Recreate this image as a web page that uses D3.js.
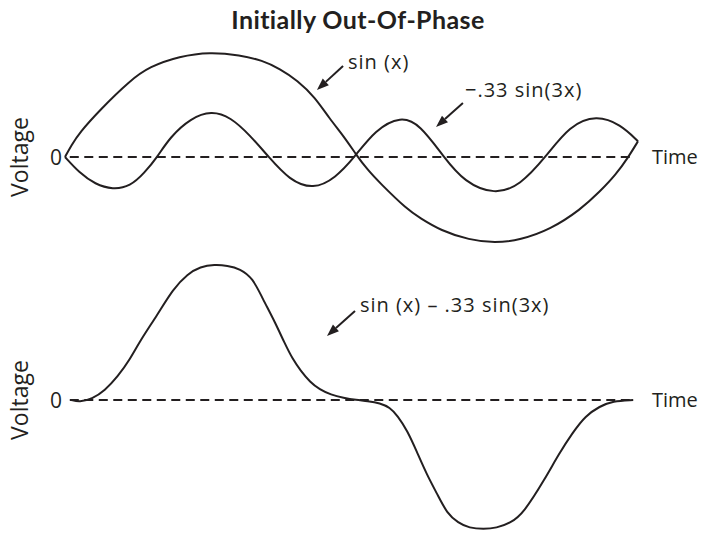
<!DOCTYPE html>
<html>
<head>
<meta charset="utf-8">
<script src="https://cdn.jsdelivr.net/npm/d3@7"></script>
<style>
  body { margin: 0; background: #fff; }
  text { font-family: "Open Sans", Lato, sans-serif; fill: #231f20; }
</style>
</head>
<body>
<div class="chart"></div>
<script>
// time is in degrees of phase, voltage in units of the sin(x) peak
const sinT = [0, 4, 9, 22, 41, 53, 72, 91, 110, 124, 135, 146, 157, 166, 176, 183, 190, 198, 215, 223, 236, 254, 270, 286, 305, 324, 336, 346, 354, 360];
const sinV = [0, 0.11, 0.23, 0.45, 0.73, 0.86, 0.96, 1.0, 0.97, 0.92, 0.84, 0.73, 0.57, 0.37, 0.18, 0.02, -0.12, -0.25, -0.50, -0.58, -0.70, -0.79, -0.82, -0.79, -0.69, -0.50, -0.33, -0.17, 0, 0.15];

const waveT = [0, 9, 19, 30, 41, 50, 58, 66, 79, 92, 104, 116, 128, 141, 156, 170, 182, 195, 211, 223, 238, 251, 270, 286, 302, 317, 334, 349, 360];
const waveV = [0, -0.15, -0.26, -0.31, -0.28, -0.15, 0, 0.19, 0.37, 0.44, 0.38, 0.21, 0, -0.22, -0.31, -0.20, 0, 0.26, 0.39, 0.31, 0, -0.24, -0.36, -0.27, 0, 0.30, 0.40, 0.31, 0.15];

const sumT = [4, 9, 17, 25, 33, 41, 47, 58, 68, 77, 85, 94, 102, 110, 118, 124, 132, 138, 143, 148, 154, 160, 167, 175, 183, 190, 198, 204, 209, 215, 221, 227, 234, 240, 247, 254, 263, 271, 280, 288, 302, 310, 319, 327, 336, 344, 357];
const sumV = [0, -0.02, 0.01, 0.09, 0.22, 0.39, 0.56, 0.81, 1.06, 1.20, 1.27, 1.29, 1.28, 1.25, 1.16, 0.97, 0.74, 0.54, 0.39, 0.28, 0.17, 0.10, 0.05, 0.02, 0, -0.01, -0.03, -0.07, -0.15, -0.29, -0.49, -0.70, -0.90, -1.08, -1.17, -1.22, -1.23, -1.22, -1.17, -1.08, -0.74, -0.52, -0.31, -0.15, -0.06, -0.01, 0];

const zeroLine = [3, 356];

const width = 703;
const height = 535;
const ink = "#231f20";

const x = d3.scaleLinear().domain([0, 360]).range([65, 638]);
const yTop = d3.scaleLinear().domain([-1, 1]).range([262, 52]);
const yBot = d3.scaleLinear().domain([-1, 1]).range([505, 295]);

const svg = d3.select(".chart").append("svg")
  .attr("width", width)
  .attr("height", height);

svg.append("text")
  .attr("x", 358)
  .attr("y", 29)
  .attr("text-anchor", "middle")
  .style("font-family", "Lato, sans-serif")
  .style("font-size", "25px")
  .style("font-weight", "bold")
  .style("letter-spacing", "0.4px")
  .text("Initially Out-Of-Phase");

function pairs(ts, vs) {
  return ts.map((t, i) => [t, vs[i]]);
}

function drawPanel(y, series) {
  const g = svg.append("g");

  // zero line
  g.append("line")
    .attr("x1", x(zeroLine[0]))
    .attr("x2", x(zeroLine[1]))
    .attr("y1", y(0))
    .attr("y2", y(0))
    .attr("stroke", ink)
    .attr("stroke-width", 2)
    .attr("stroke-dasharray", "9,5.5");

  const line = d3.line()
    .x(d => x(d[0]))
    .y(d => y(d[1]))
    .curve(d3.curveBasis);

  series.forEach(s => {
    g.append("path")
      .datum(s)
      .attr("fill", "none")
      .attr("stroke", ink)
      .attr("stroke-width", 2)
      .attr("stroke-linejoin", "round")
      .attr("d", line);
  });

  g.append("text")
    .attr("x", x(0) - 9)
    .attr("y", y(0))
    .attr("dy", "0.36em")
    .attr("text-anchor", "middle")
    .style("font-size", "21px")
    .text("0");

  g.append("text")
    .attr("x", 652)
    .attr("y", y(0))
    .attr("dy", "0.36em")
    .style("font-size", "20px")
    .text("Time");

  g.append("text")
    .attr("transform", `translate(28,${y(0)}) rotate(-90)`)
    .attr("text-anchor", "middle")
    .style("font-size", "23px")
    .text("Voltage");
  return g;
}

// arrow with a filled head, from tail to tip (data coords)
function arrow(y, tail, tip) {
  const x1 = x(tail[0]), y1 = y(tail[1]);
  const x2 = x(tip[0]), y2 = y(tip[1]);
  const a = Math.atan2(y2 - y1, x2 - x1);
  const len = 12, w = 4.5;
  const bx = x2 - len * Math.cos(a), by = y2 - len * Math.sin(a);
  svg.append("line")
    .attr("x1", x1).attr("y1", y1)
    .attr("x2", bx).attr("y2", by)
    .attr("stroke", ink)
    .attr("stroke-width", 2);
  svg.append("polygon")
    .attr("points", [
      [x2, y2],
      [bx + w * Math.sin(a), by - w * Math.cos(a)],
      [bx - w * Math.sin(a), by + w * Math.cos(a)]
    ].map(p => p.join(",")).join(" "))
    .attr("fill", ink);
}

function label(y, pos, txt) {
  svg.append("text")
    .attr("x", x(pos[0]))
    .attr("y", y(pos[1]))
    .attr("dy", "0.35em")
    .style("font-size", "20px")
    .style("letter-spacing", "1px")
    .text(txt);
}

drawPanel(yTop, [pairs(sinT, sinV), pairs(waveT, waveV)]);
drawPanel(yBot, [pairs(sumT, sumV)]);

arrow(yTop, [174.7, 0.867], [158.3, 0.638]);
label(yTop, [177.8, 0.905], "sin (x)");

arrow(yTop, [250.0, 0.514], [233.1, 0.286]);
label(yTop, [251.3, 0.638], "\u2212.33 sin(3x)");

arrow(yBot, [182.2, 0.848], [164.6, 0.61]);
label(yBot, [185.3, 0.905], "sin (x) \u2013 .33 sin(3x)");
</script>
</body>
</html>
